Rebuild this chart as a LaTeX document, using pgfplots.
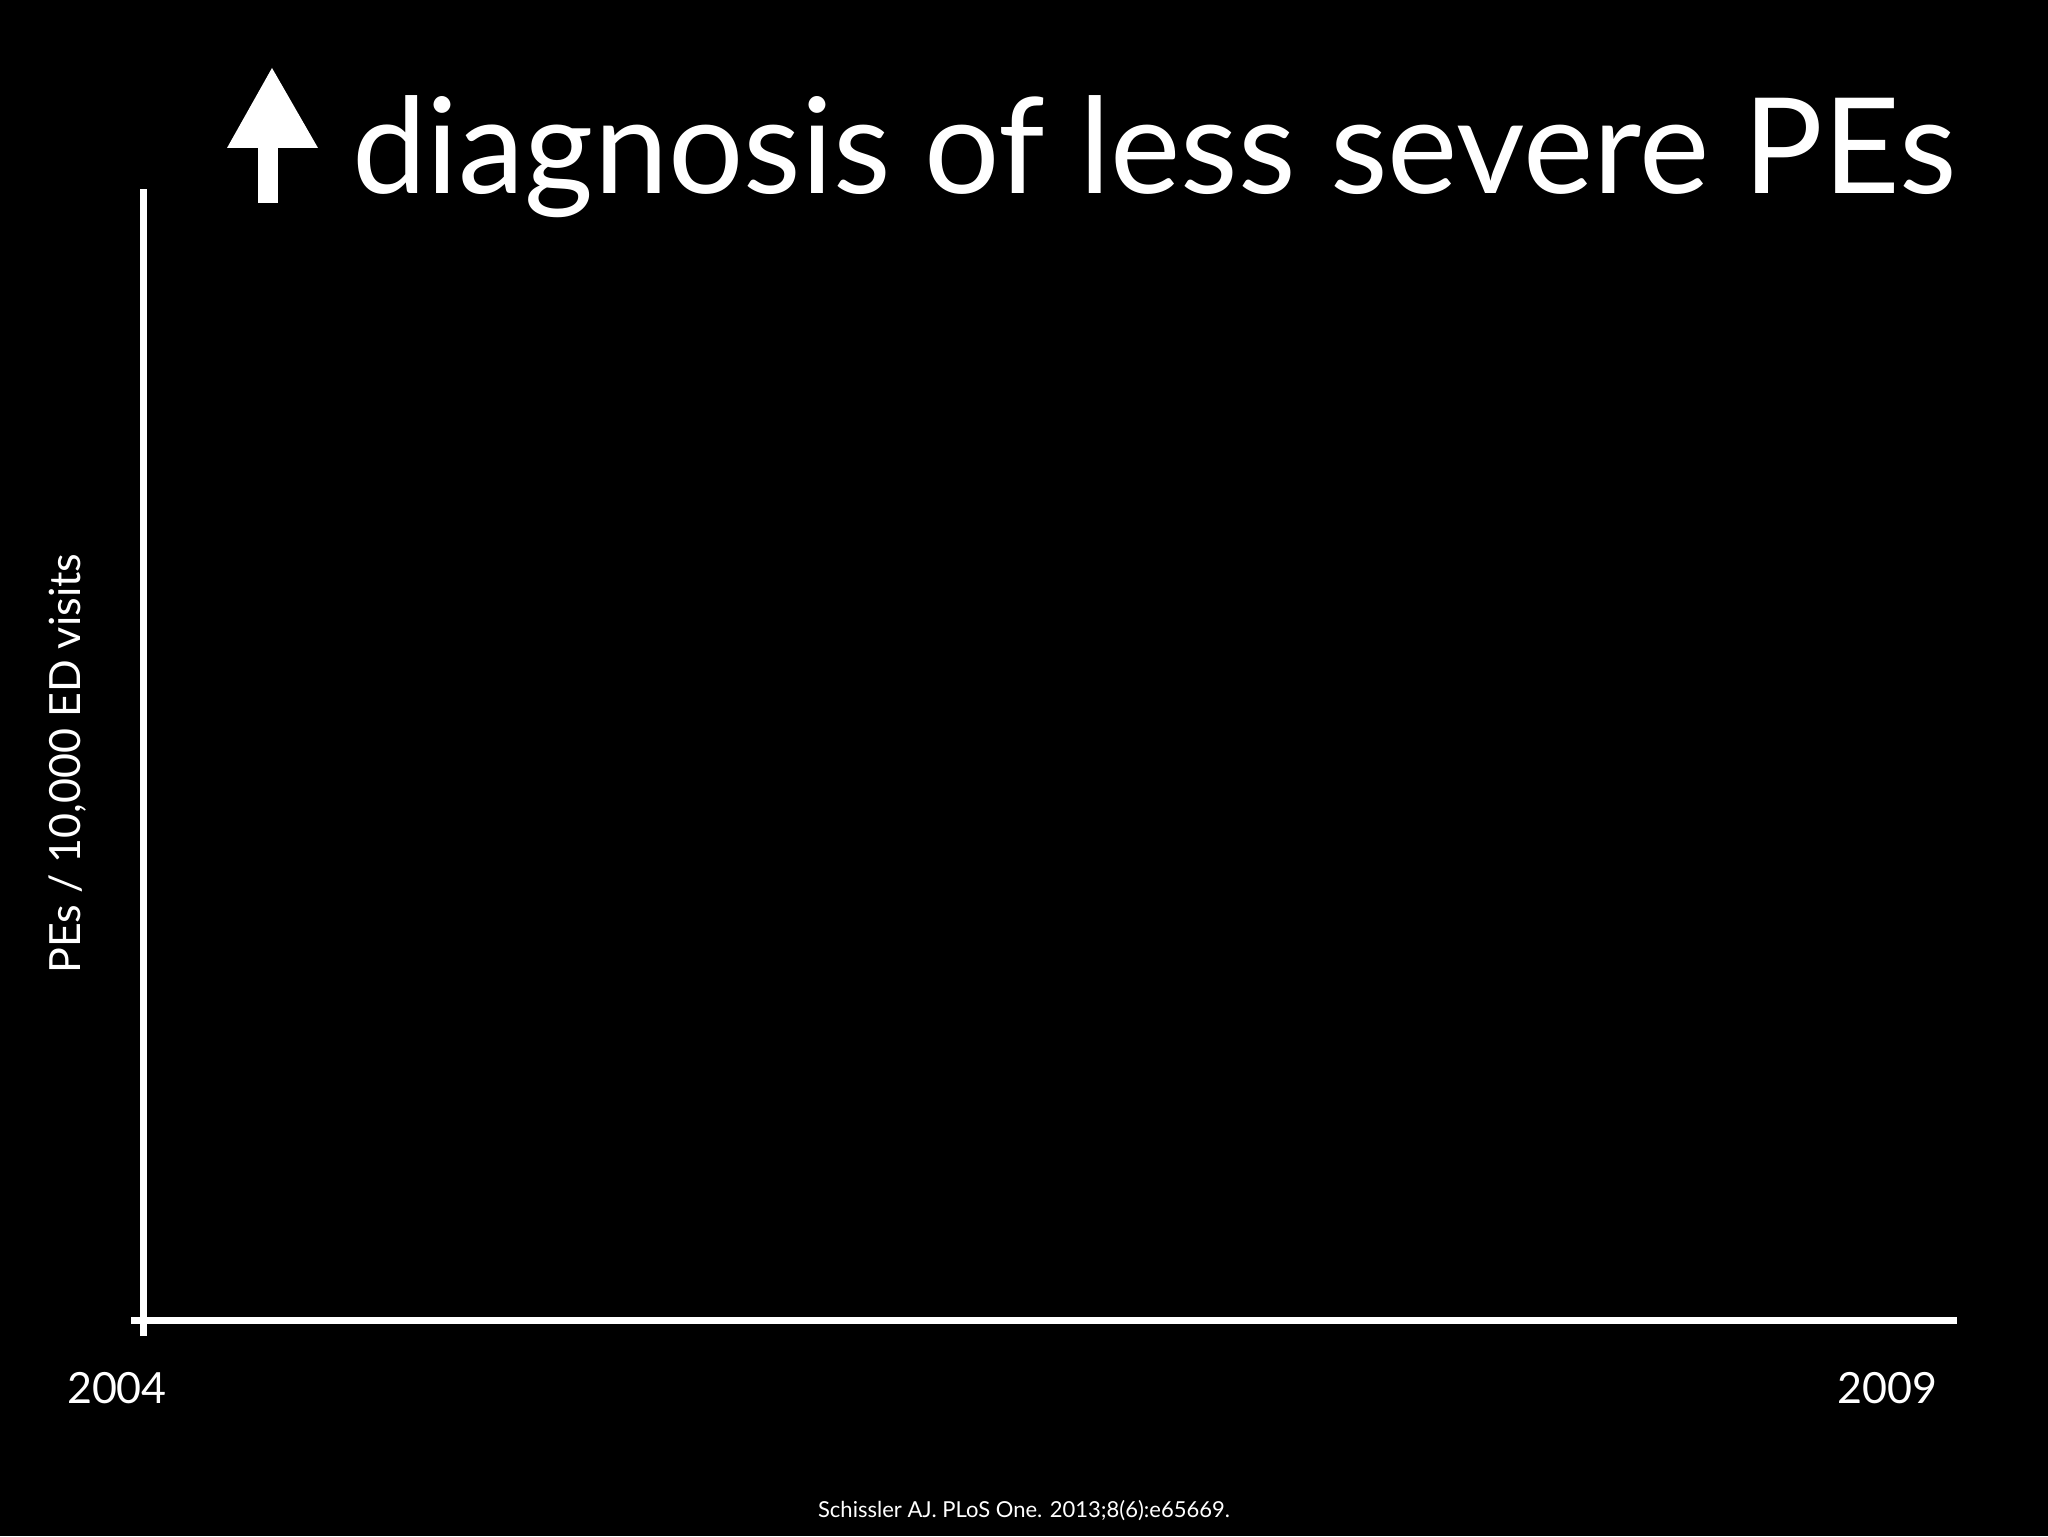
\documentclass[border=0pt]{standalone}
\usepackage{fontspec}
\setmainfont{Lato}
\usepackage{pgfplots}
\pgfplotsset{compat=1.18}

\begin{document}
\begin{tikzpicture}
% slide background, 1024pt x 768pt
\fill[black] (0,0) rectangle (1024pt,768pt);

% up arrow before the title
\fill[white] (136pt,734pt) -- (159pt,694pt) -- (113.5pt,694pt) -- cycle;
\fill[white] (129pt,694.5pt) rectangle (139pt,666.5pt);

\begin{axis}[
    at={(71.5pt,108pt)}, anchor=south west,
    scale only axis,
    width=907pt, height=565.5pt,
    xmin=2004, xmax=2009.2,
    ymin=0, ymax=1,
    axis lines=left,
    axis line style={white, line width=3.5pt, -},
    x axis line style={shorten <=-6pt},
    y axis line style={shorten <=-8pt},
    major tick length=0pt,
    xtick={2009},
    extra x ticks={2004},
    extra x tick style={xticklabel style={xshift=-13pt}},
    ytick=\empty,
    xticklabel style={white, font=\fontsize{21.5}{24}\selectfont, anchor=base, yshift=-41.5pt},
    /pgf/number format/assume math mode=true,
    /pgf/number format/set thousands separator={},
    ylabel={PEs / 10,000 ED visits},
    every axis y label/.style={at={(axis description cs:-0.0347,0.492)}, rotate=90, anchor=base,
        white, font=\fontsize{21.5}{25}\selectfont},
    title={diagnosis of less severe PEs},
    every axis title shift=0pt,
    title style={at={(axis description cs:0.1152,0.9956)}, anchor=base west,
        white, inner sep=0pt, font=\fontsize{66.5}{72}\selectfont},
]
\end{axis}

\node[white, font=\fontsize{11}{13}\selectfont] at (512pt,12.5pt)
    {Schissler AJ. PLoS One. 2013;8(6):e65669.};
\end{tikzpicture}
\end{document}
